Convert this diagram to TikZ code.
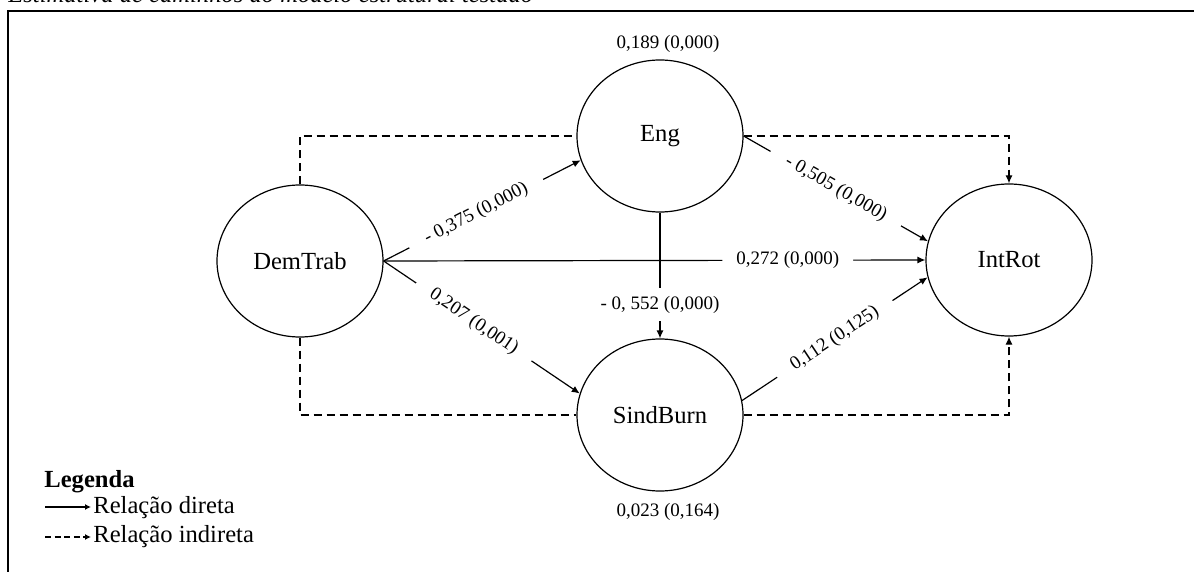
\documentclass[tikz,border=0pt]{standalone}
\usepackage{fontspec}
\setmainfont{Liberation Serif}
\usetikzlibrary{arrows.meta,shapes.geometric,positioning}

\begin{document}
\begin{tikzpicture}[x=0.5pt, y=-0.5pt, >={Latex[length=4pt,width=3.5pt]},
  construto/.style={ellipse, draw, line width=0.6pt, minimum width=83pt, minimum height=76pt, inner sep=0pt, font=\fontsize{12.3}{14}\selectfont},
  coef/.style={font=\fontsize{9.5}{11}\selectfont, inner sep=1pt},
  rotulo/.style={coef, fill=white, sloped, inner xsep=9pt, inner ysep=3pt},
  direta/.style={->, line width=0.6pt},
  indireta/.style={line width=0.6pt, dash pattern=on 4pt off 2.5pt},
  legtxt/.style={anchor=west, inner sep=0pt, font=\fontsize{12.3}{14}\selectfont}]
\useasboundingbox (0,0) rectangle (1194,572);
% moldura e titulo
\node[anchor=base west, inner sep=0pt, font=\itshape\fontsize{12.3}{14}\selectfont] (titulo) at (8,3) {Estimativa de caminhos do modelo estrutural testado};
\draw[line width=0.8pt] (8,580) -- (8,11) -- (1200,11);
% construtos
\node[construto] (DemTrab) at (300,261) {DemTrab};
\node[construto] (Eng) at (660,136) {Eng};
\node[construto] (SindBurn) at (660,415) {SindBurn};
\node[construto] (IntRot) at (1009,260) {IntRot};
\node[coef] (r2Eng) at (668,44) {0,189 (0,000)};
\node[coef] (r2SindBurn) at (668,512) {0,023 (0,164)};
% relacoes indiretas
\draw[indireta] (DemTrab.north) |- (Eng.west);
\draw[indireta, ->] (Eng.east) -| (IntRot.north);
\draw[indireta] (DemTrab.south) |- (SindBurn.west);
\draw[indireta, ->] (SindBurn.east) -| (IntRot.south);
% relacoes diretas
\path (DemTrab.east) edge[direta] node[rotulo, pos=0.47] {- 0,375 (0,000)} (Eng.197);
\path (DemTrab.east) edge[direta] node[rotulo, pos=0.46] {0,207 (0,001)} (SindBurn.165);
\path (DemTrab.east) edge[direta] node[rotulo, pos=0.746, inner xsep=7pt] {0,272 (0,000)} (IntRot.west);
\path (Eng.east) edge[direta] node[rotulo, pos=0.5] {- 0,505 (0,000)} (IntRot.167);
\path (SindBurn.10) edge[direta] node[rotulo, pos=0.5] {0,112 (0,125)} (IntRot.192);
\path (Eng.south) edge[direta] node[coef, fill=white, pos=0.73, inner ysep=4pt] {- 0, 552 (0,000)} (SindBurn.north);
% legenda
\node[legtxt, font=\bfseries\fontsize{12.3}{14}\selectfont] (legenda) at (44,482) {Legenda};
\node[legtxt] (ldireta) at (93,508) {Relação direta};
\node[legtxt] (lindireta) at (93,537) {Relação indireta};
\coordinate (d0) at (45,507);
\coordinate (i0) at (45,537);
\draw[line width=0.6pt, -{Latex[length=3pt,width=3pt]}] (d0) -- ([xshift=-1pt]ldireta.west |- d0);
\draw[line width=0.6pt, dash pattern=on 3pt off 1.8pt, -{Latex[length=3pt,width=3pt]}] (i0) -- ([xshift=-1pt]lindireta.west |- i0);
\end{tikzpicture}
\end{document}
